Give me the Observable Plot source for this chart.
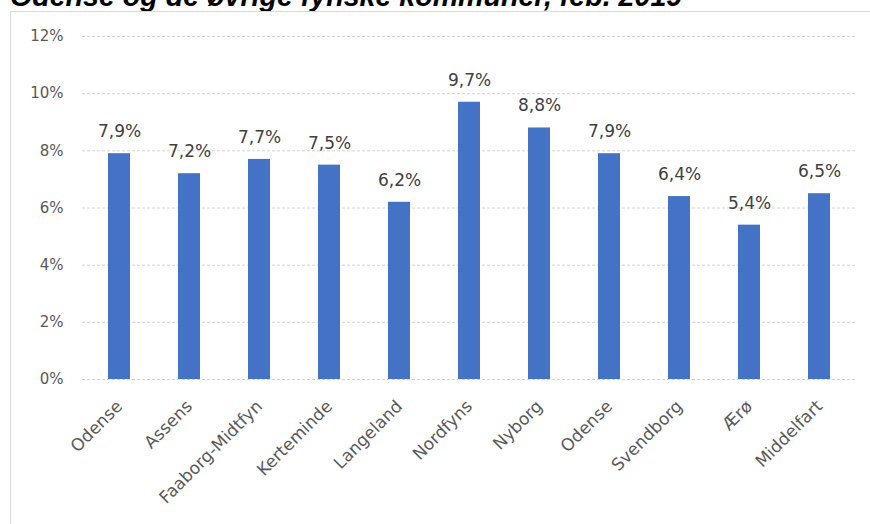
<!DOCTYPE html>
<html><head><meta charset="utf-8">
<script src="https://cdn.jsdelivr.net/npm/d3@7"></script>
<script src="https://cdn.jsdelivr.net/npm/@observablehq/plot@0.6"></script>
<style>
body{margin:0;background:#fff;overflow:hidden;}
#wrap{position:relative;width:870px;height:524px;overflow:hidden;background:#fff;}
#title{position:absolute;left:10px;top:-18px;font:bold italic 28.6px "Liberation Sans";line-height:1;color:#000;white-space:nowrap;}
#box{position:absolute;left:10px;top:11px;width:860px;height:513px;border-top:1px solid #d9d9d9;border-left:1px solid #d9d9d9;box-sizing:border-box;}
#chart{position:absolute;left:11px;top:12px;}
</style></head><body>
<div id="wrap"><div id="title">Odense og de øvrige fynske kommuner, feb. 2019</div><div id="box"></div><div id="chart"></div></div>
<script>
const categories = ["Odense","Assens","Faaborg-Midtfyn","Kerteminde","Langeland","Nordfyns","Nyborg","Odense","Svendborg","Ærø","Middelfart"];
const values = [7.9,7.2,7.7,7.5,6.2,9.7,8.8,7.9,6.4,5.4,6.5];
const yTicks = [0,2,4,6,8,10,12];
const data = categories.map((c,i)=>({i, name:c, value: values[i]}));
const fmt = v => v.toFixed(1).replace(".",",") + "%";
const chart = Plot.plot({
  width:859, height:512, marginLeft:71, marginRight:15, marginTop:24, marginBottom:145,
  style:{fontFamily:"DejaVu Sans", background:"transparent", color:"#595959"},
  x:{type:"band", domain:d3.range(categories.length), paddingInner:0.69, paddingOuter:0.345, align:0.5, label:null},
  y:{domain:[0,12], label:null},
  marks:[
    Plot.ruleY(yTicks,{stroke:"#d4d4d4", strokeDasharray:"3,2"}),
    Plot.barY(data,{x:"i", y:"value", fill:"#4472c4"}),
    Plot.text(data,{x:"i", y:"value", text:d=>fmt(d.value), dy:-22, fontSize:17, fill:"#404040"}),
    Plot.axisY({ticks:yTicks, tickSize:0, tickPadding:19, tickFormat:d=>d+"%", fontSize:15, label:null}),
    Plot.axisX({tickSize:0, tickRotate:-45, tickPadding:24, tickFormat:i=>categories[i], fontSize:17, label:null})
  ]
});
document.getElementById("chart").appendChild(chart);
</script>
</body></html>
